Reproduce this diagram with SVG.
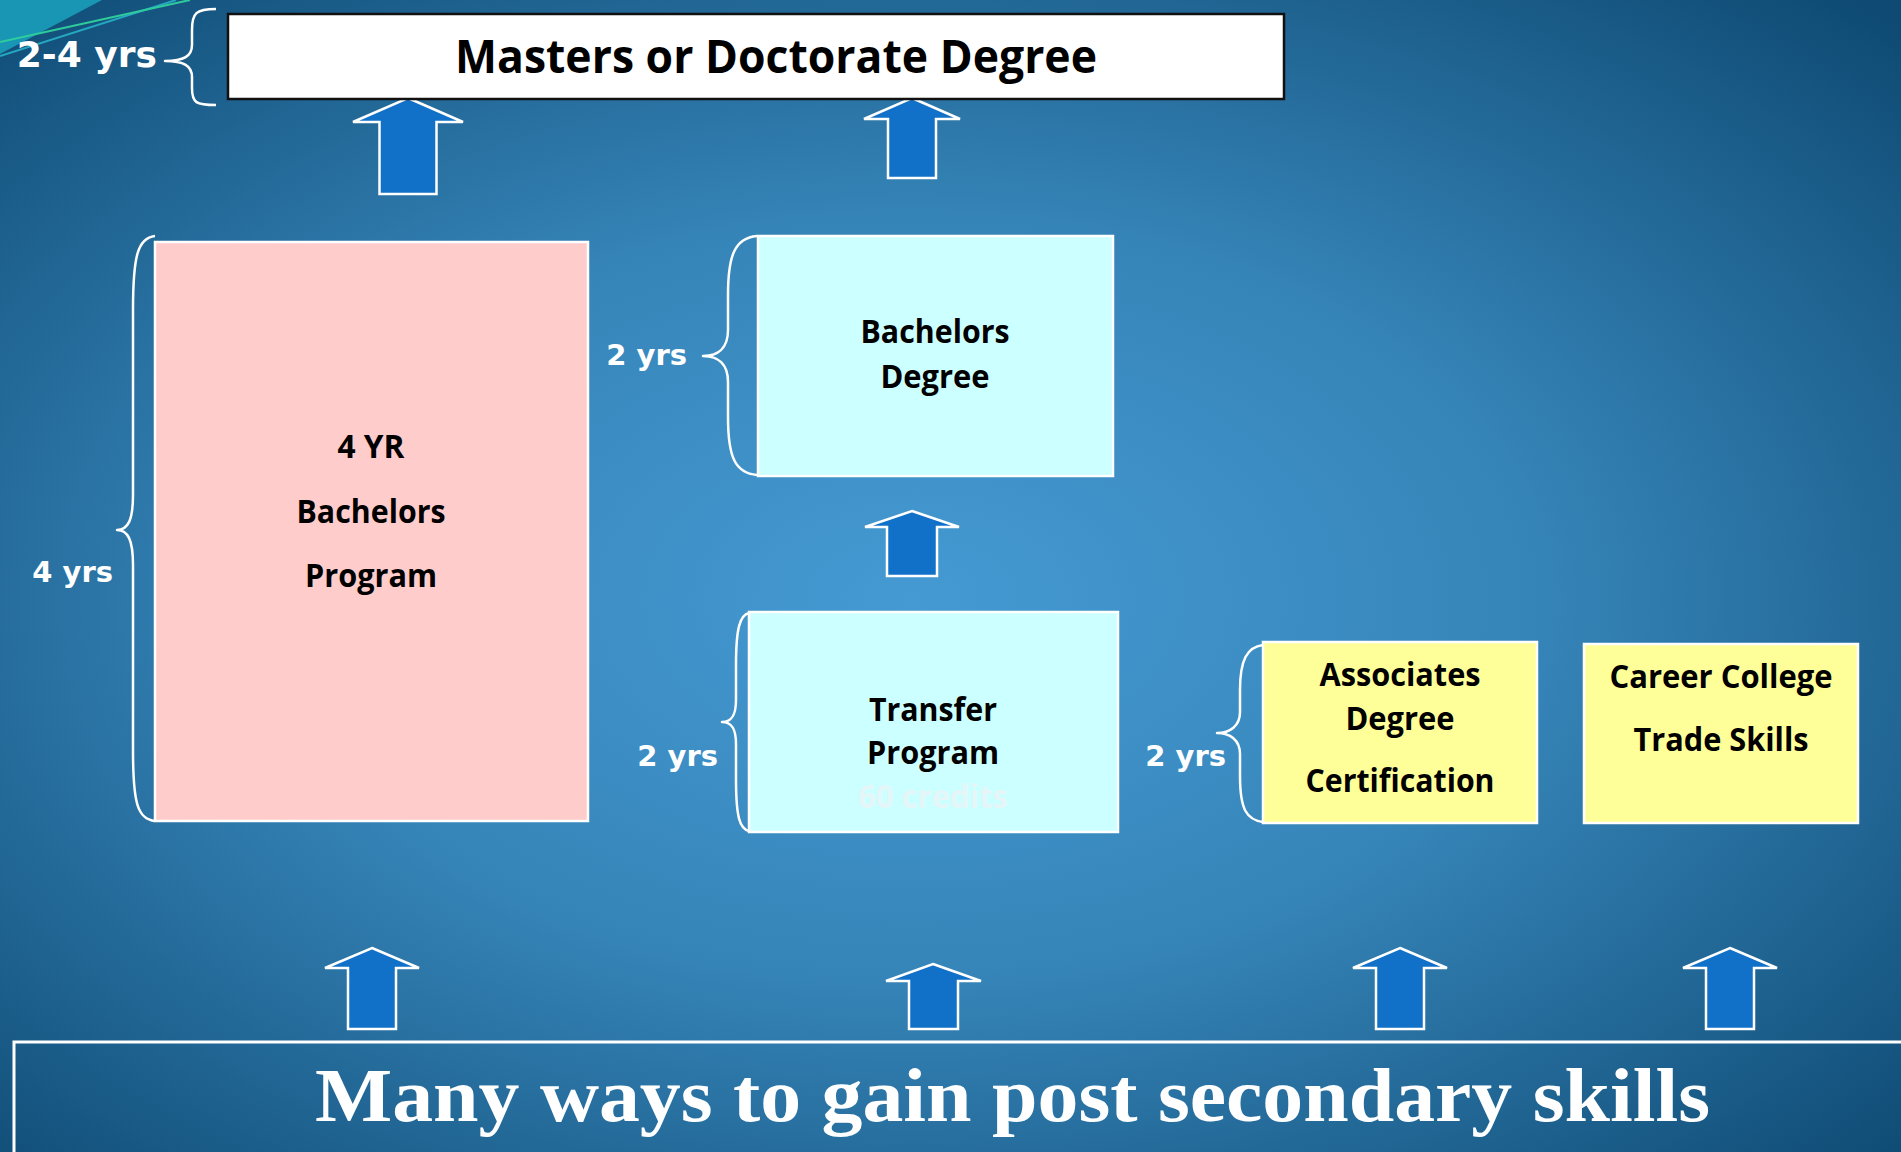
<svg xmlns="http://www.w3.org/2000/svg" width="1901" height="1152" viewBox="0 0 1901 1152">
<defs>
<radialGradient id="bg" cx="0.48" cy="0.52" r="0.72">
<stop offset="0" stop-color="#459ad3"/>
<stop offset="0.45" stop-color="#3685b9"/>
<stop offset="1" stop-color="#0e4a73"/>
</radialGradient>
<style>
.arrow{fill:#1170c8;stroke:#ffffff;stroke-width:2.5}
.brace{fill:none;stroke:#ffffff;stroke-width:2.5;stroke-linejoin:round}
.yrs{font-family:"DejaVu Sans",sans-serif;font-weight:bold;fill:#ffffff}
.lbl{font-family:"Open Sans","Liberation Sans",sans-serif;font-weight:bold;font-size:32px;fill:#000000;text-anchor:middle}
.box{stroke:#ffffff;stroke-width:2.5}
</style>
</defs>
<rect width="1901" height="1152" fill="url(#bg)"/>
<g id="decor">
<polygon points="0,0 102,0 0,54" fill="#1896b4"/>
<line x1="0" y1="56" x2="176" y2="0" stroke="#25a7c2" stroke-width="2"/>
<line x1="0" y1="42" x2="190" y2="0" stroke="#2fcb9c" stroke-width="2"/>
</g>

<g id="connectors">
<polygon class="arrow" points="408,98 463,122 436.5,122 436.5,194 379.5,194 379.5,122 353,122"/>
<polygon class="arrow" points="912,98 960,119 936,119 936,178 888,178 888,119 864,119"/>
<polygon class="arrow" points="912,511 959,527 937,527 937,576 887,576 887,527 865,527"/>
<polygon class="arrow" points="372,948 419,968 396,968 396,1029 348,1029 348,968 325,968"/>
<polygon class="arrow" points="933,964 981,981 958,981 958,1029 909,1029 909,981 886,981"/>
<polygon class="arrow" points="1400,948 1447,968 1424,968 1424,1029 1376,1029 1376,968 1353,968"/>
<polygon class="arrow" points="1730,948 1777,968 1754,968 1754,1029 1706,1029 1706,968 1683,968"/>
</g>

<g id="brace-masters">
<path class="brace" d="M216,9 C196,9 192,13 192,30 L192,45 C192,56 184,61 165,61 C184,61 192,66 192,77 L192,88 C192,103 196,105 216,105"/>
<text class="yrs" x="157" y="67" font-size="36" text-anchor="end">2-4 yrs</text>
</g>

<g id="node-masters">
<rect x="228" y="14" width="1056" height="85" fill="#ffffff" stroke="#111111" stroke-width="2.5"/>
<text x="455" y="73" font-family="'Open Sans','Liberation Sans',sans-serif" font-weight="bold" font-size="46" fill="#000000" textLength="642" lengthAdjust="spacingAndGlyphs">Masters or Doctorate Degree</text>
</g>

<g id="brace-4yr">
<path class="brace" d="M155,236 C138,238 133,255 133,310 L133,495 C133,520 128,530 117,530 C128,530 133,540 133,565 L133,750 C133,805 138,819 155,821"/>
<text class="yrs" x="113" y="582" font-size="29" text-anchor="end">4 yrs</text>
</g>

<g id="node-4yr">
<rect class="box" x="155" y="242" width="433" height="579" fill="#ffcccc"/>
<text class="lbl" x="371" y="458" textLength="67" lengthAdjust="spacingAndGlyphs">4 YR</text>
<text class="lbl" x="371" y="523" textLength="149" lengthAdjust="spacingAndGlyphs">Bachelors</text>
<text class="lbl" x="371" y="587" textLength="132" lengthAdjust="spacingAndGlyphs">Program</text>
</g>

<g id="brace-bachelors">
<path class="brace" d="M757,236 C735,238 728,255 728,295 L728,330 C728,348 718,356 703,356 C718,356 728,364 728,382 L728,417 C728,457 735,473 757,475"/>
<text class="yrs" x="687" y="365" font-size="29" text-anchor="end">2 yrs</text>
</g>

<g id="node-bachelors">
<rect class="box" x="758" y="236" width="355" height="240" fill="#ccffff"/>
<text class="lbl" x="935" y="343" textLength="149" lengthAdjust="spacingAndGlyphs">Bachelors</text>
<text class="lbl" x="935" y="388" textLength="109" lengthAdjust="spacingAndGlyphs">Degree</text>
</g>

<g id="brace-transfer">
<path class="brace" d="M749,613 C740,615 736,628 736,665 L736,700 C736,715 732,722 722,722 C732,722 736,729 736,744 L736,779 C736,818 740,829 749,831"/>
<text class="yrs" x="718" y="766" font-size="29" text-anchor="end">2 yrs</text>
</g>

<g id="node-transfer">
<rect class="box" x="749" y="612" width="369" height="220" fill="#ccffff"/>
<text class="lbl" x="933" y="721" textLength="128" lengthAdjust="spacingAndGlyphs">Transfer</text>
<text class="lbl" x="933" y="764" textLength="132" lengthAdjust="spacingAndGlyphs">Program</text>
<text class="lbl" x="933" y="808" textLength="150" lengthAdjust="spacingAndGlyphs" style="fill:#e4f6f8">60 credits</text>
</g>

<g id="brace-associates">
<path class="brace" d="M1263,645 C1247,647 1240,660 1240,690 L1240,712 C1240,726 1230,733 1217,733 C1230,733 1240,740 1240,754 L1240,776 C1240,810 1247,820 1263,822"/>
<text class="yrs" x="1226" y="766" font-size="29" text-anchor="end">2 yrs</text>
</g>

<g id="node-associates">
<rect class="box" x="1263" y="642" width="274" height="181" fill="#ffff99"/>
<text class="lbl" x="1400" y="686" textLength="161" lengthAdjust="spacingAndGlyphs">Associates</text>
<text class="lbl" x="1400" y="730" textLength="109" lengthAdjust="spacingAndGlyphs">Degree</text>
<text class="lbl" x="1400" y="792" textLength="189" lengthAdjust="spacingAndGlyphs">Certification</text>
</g>

<g id="node-career">
<rect class="box" x="1584" y="644" width="274" height="179" fill="#ffff99"/>
<text class="lbl" x="1721" y="688" textLength="223" lengthAdjust="spacingAndGlyphs">Career College</text>
<text class="lbl" x="1721" y="751" textLength="175" lengthAdjust="spacingAndGlyphs">Trade Skills</text>
</g>

<g id="banner">
<polyline points="1901,1042 14,1042 14,1152" fill="none" stroke="#ffffff" stroke-width="3"/>
<text x="315" y="1121" font-family="'Liberation Serif',serif" font-weight="bold" font-size="76" fill="#ffffff" textLength="1395" lengthAdjust="spacingAndGlyphs">Many ways to gain post secondary skills</text>
</g>
</svg>
